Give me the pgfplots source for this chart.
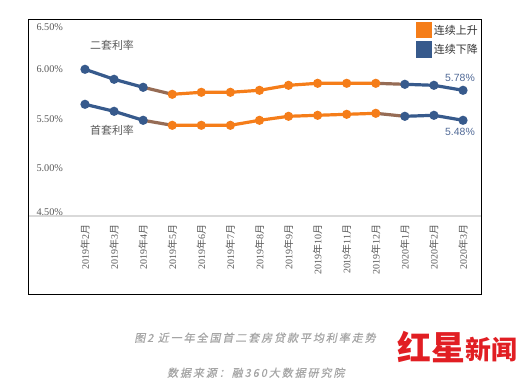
\documentclass[border=0pt]{standalone}
\usepackage{fontspec}
\usepackage{pgfplots}
\usepackage{pgfplotstable}
\pgfplotsset{compat=1.18}
\setmainfont{Liberation Serif}
\newfontfamily\cjk{Noto Sans CJK SC}
\newfontfamily\cjkcap{Noto Sans CJK SC}[FakeSlant=0.2,FakeBold=0.6,LetterSpace=18]
\newfontfamily\lsans{Liberation Sans}
\definecolor{cblue}{RGB}{55,90,140}
\definecolor{corange}{RGB}{245,125,25}
\definecolor{cmix}{RGB}{150,108,85}
\definecolor{tickgray}{RGB}{89,89,89}
\definecolor{valblue}{RGB}{80,105,150}
\definecolor{linegray}{RGB}{217,217,217}
\definecolor{capgray}{RGB}{165,165,165}
\definecolor{logored}{RGB}{225,30,35}
\newcommand{\ym}[2]{#1{\cjk 年}#2{\cjk 月}}
\pgfplotstableread{
x second first
0 5.99 5.64
1 5.89 5.57
2 5.81 5.48
3 5.74 5.43
4 5.76 5.43
5 5.76 5.43
6 5.78 5.48
7 5.83 5.52
8 5.85 5.53
9 5.85 5.54
10 5.85 5.55
11 5.84 5.52
12 5.83 5.53
13 5.78 5.48
}\rates
\begin{document}
\begin{tikzpicture}
\useasboundingbox (0,0) rectangle (532bp,-392bp);
\begin{axis}[
  at={(28bp,-216bp)}, anchor=south west,
  width=453bp, height=197bp, scale only axis,
  xmin=-1.960, xmax=13.619, ymin=4.523, ymax=6.493,
  axis x line*=bottom, axis y line*=left,
  y axis line style={draw=none},
  x axis line style={draw=linegray, line width=1.2bp},
  major tick length=0pt, tick style={draw=none},
  xtick={0,...,13},
  xticklabels={\ym{2019}{2},\ym{2019}{3},\ym{2019}{4},\ym{2019}{5},\ym{2019}{6},\ym{2019}{7},\ym{2019}{8},\ym{2019}{9},\ym{2019}{10},\ym{2019}{11},\ym{2019}{12},\ym{2020}{1},\ym{2020}{2},\ym{2020}{3}},
  xticklabel shift=5bp,
  xticklabel style={rotate=90, anchor=east, font=\fontsize{10}{10}\selectfont, text=tickgray},
  ytick={4.566,5.006,5.493,5.99,6.41},
  yticklabels={4.50\%,5.00\%,5.50\%,6.00\%,6.50\%},
  yticklabel style={anchor=west, xshift=5bp, font=\fontsize{10.3}{10.3}\selectfont, text=tickgray},
  clip=false,
  legend style={at={(1,1)}, anchor=north east, xshift=-1bp, yshift=-3bp, draw=none, fill=none,
    inner sep=0pt, row sep=3bp, font=\cjk\fontsize{11}{11}\selectfont, text=black!80, cells={anchor=west}},
  every axis plot/.append style={line width=3.2bp, mark size=2.9bp},
]
\addlegendimage{legend image code/.code={\fill[corange] (0bp,-6.5bp) rectangle (13bp,6.5bp);}}
\addlegendentry{连续上升}
\addlegendimage{legend image code/.code={\fill[cblue] (0bp,-6.5bp) rectangle (13bp,6.5bp);}}
\addlegendentry{连续下降}
% transition segments
\addplot[cmix, no marks, forget plot, restrict x to domain=2:3] table[x=x,y=second] {\rates};
\addplot[cmix, no marks, forget plot, restrict x to domain=10:11] table[x=x,y=second] {\rates};
\addplot[cmix, no marks, forget plot, restrict x to domain=2:3] table[x=x,y=first] {\rates};
\addplot[cmix, no marks, forget plot, restrict x to domain=10:11] table[x=x,y=first] {\rates};
% second-home rate
\addplot[cblue, mark=*, forget plot, restrict x to domain=0:2] table[x=x,y=second] {\rates};
\addplot[corange, mark=*, forget plot, restrict x to domain=3:10] table[x=x,y=second] {\rates};
\addplot[cblue, mark=*, forget plot, restrict x to domain=11:13] table[x=x,y=second] {\rates};
% first-home rate
\addplot[cblue, mark=*, forget plot, restrict x to domain=0:2] table[x=x,y=first] {\rates};
\addplot[corange, mark=*, forget plot, restrict x to domain=3:10] table[x=x,y=first] {\rates};
\addplot[cblue, mark=*, forget plot, restrict x to domain=11:13] table[x=x,y=first] {\rates};
\end{axis}
\draw[black, line width=0.9bp] (28bp,-19bp) rectangle (481bp,-294bp);
\node[font=\cjk\fontsize{11}{11}\selectfont, text=tickgray] at (112bp,-45.7bp) {二套利率};
\node[font=\cjk\fontsize{11}{11}\selectfont, text=tickgray] at (112bp,-130bp) {首套利率};
\node[font=\lsans\fontsize{10.5}{10.5}\selectfont, text=valblue] at (460bp,-78.3bp) {5.78\%};
\node[font=\lsans\fontsize{10.5}{10.5}\selectfont, text=valblue] at (460bp,-131.7bp) {5.48\%};
\node[font=\cjkcap\fontsize{11}{11}\selectfont, text=capgray] at (255bp,-337.7bp) {图2 近一年全国首二套房贷款平均利率走势};
\node[font=\cjkcap\fontsize{11}{11}\selectfont, text=capgray] at (255.8bp,-372.7bp) {数据来源：融360大数据研究院};
\node[font=\cjk\bfseries\fontsize{34}{34}\selectfont, text=logored, anchor=west, inner sep=0pt] at (397bp,-347bp) {红星};
\node[font=\cjk\bfseries\fontsize{26}{26}\selectfont, text=logored, anchor=west, inner sep=0pt] at (465bp,-350bp) {新闻};
\end{tikzpicture}
\end{document}
